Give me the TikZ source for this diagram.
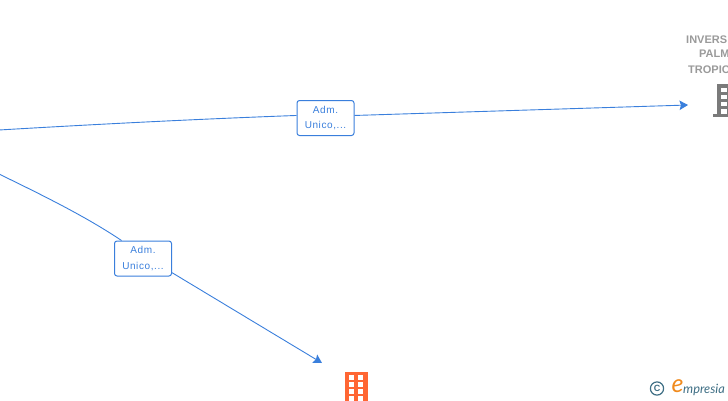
\documentclass[tikz,border=0pt]{standalone}
\usepackage{fontspec}
\setmainfont{Liberation Sans}
\newfontfamily\logofont{Lato}
\usetikzlibrary{arrows.meta}
\definecolor{linkblue}{HTML}{3A7FDC}
\definecolor{namegray}{HTML}{9A9A9A}
\definecolor{bldgray}{HTML}{7A7A7A}
\definecolor{bldorange}{HTML}{FF6633}
\definecolor{logoteal}{HTML}{3F6F85}
\definecolor{logoorange}{HTML}{F08A1D}
\tikzset{
  x=1pt,y=-1pt,
  edgeline/.style={draw=linkblue,line width=0.9pt},
  arrowline/.style={edgeline,-{Stealth[length=8.5pt,width=9.5pt,inset=1.5pt]}},
  rolebox/.style={draw=linkblue,line width=1pt,rounded corners=2.5pt,fill=white,minimum width=57pt,minimum height=35pt,inner sep=0pt,align=center,text=linkblue,font=\addfontfeature{LetterSpace=6}\fontsize{10}{15.5}\selectfont},
  cotext/.style={anchor=west,inner sep=0pt,text=namegray,font=\bfseries\fontsize{11}{12}\selectfont},
}
\begin{document}
\begin{tikzpicture}
\useasboundingbox (0,0) rectangle (728,400);
\clip (0,0) rectangle (728,400);
\coordinate (s1) at (-1,130);
\coordinate (s2) at (-1,174);
\coordinate (t1) at (688,105);
\coordinate (t2) at (322,363);
\node[rolebox] (r1) at (325.5,118) {Adm.\\Unico,...};
\node[rolebox] (r2) at (143,258.5) {Adm.\\Unico,...};
\draw[edgeline] (s1) .. controls (100,124) and (200,119) .. (r1.175);
\draw[arrowline] (r1.5) -- (t1);
\draw[edgeline] (s2) .. controls (42,195) and (85,216) .. (r2.140);
\draw[arrowline] (r2.-26) -- (t2);
\node[cotext] (n1) at (686,39.5) {INVERS};
\node[cotext] (n2) at (699,53.5) {PALM};
\node[cotext] (n3) at (688,69.5) {TROPIC};
% grey building
\fill[bldgray] (716.5,84) rectangle (730,114);
\fill[bldgray] (712.5,113.5) rectangle (730,117);
\foreach \y in {88,95,102}{
  \fill[white] (721,\y) rectangle (727,\y+4);
}
\fill[white] (721,109) rectangle (727,114);
% orange building
\fill[bldorange] (345,372) rectangle (368,401);
\foreach \y in {375,382,389,396}{
  \fill[white] (349,\y) rectangle (354,\y+4.5);
  \fill[white] (358,\y) rectangle (363,\y+4.5);
}
% logo
\draw[logoteal,line width=1.2pt] (657,388.5) circle (6.6);
\node[inner sep=0pt,text=logoteal,font=\bfseries\fontsize{9}{9}\selectfont] (cc) at (657,388.5) {C};
\node[inner sep=0pt,text=logoorange,font=\logofont\itshape\fontsize{25}{25}\selectfont] (ee) at (677.5,386) {e};
\node[anchor=base west,inner sep=0pt,text=logoteal,font=\logofont\itshape\fontsize{12.8}{13}\selectfont] (mp) at (683,393) {mpresia};
\end{tikzpicture}
\end{document}
